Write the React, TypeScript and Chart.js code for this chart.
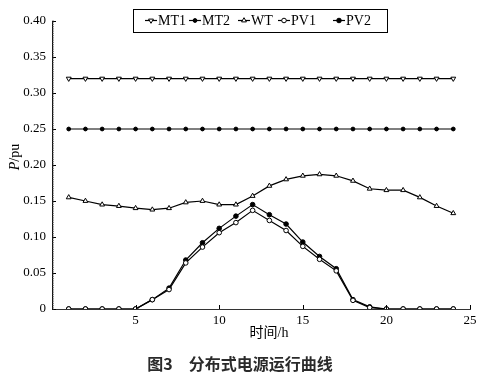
import React, { useEffect, useRef } from 'react';
import { Chart, registerables } from 'chart.js';

Chart.register(...registerables);

const hours = [1, 2, 3, 4, 5, 6, 7, 8, 9, 10, 11, 12, 13, 14, 15, 16, 17, 18, 19, 20, 21, 22, 23, 24];
const MT1 = [0.32, 0.32, 0.32, 0.32, 0.32, 0.32, 0.32, 0.32, 0.32, 0.32, 0.32, 0.32, 0.32, 0.32, 0.32, 0.32, 0.32, 0.32, 0.32, 0.32, 0.32, 0.32, 0.32, 0.32];
const MT2 = [0.25, 0.25, 0.25, 0.25, 0.25, 0.25, 0.25, 0.25, 0.25, 0.25, 0.25, 0.25, 0.25, 0.25, 0.25, 0.25, 0.25, 0.25, 0.25, 0.25, 0.25, 0.25, 0.25, 0.25];
const WT = [0.155, 0.15, 0.145, 0.143, 0.14, 0.138, 0.14, 0.148, 0.15, 0.145, 0.145, 0.157, 0.171, 0.18, 0.185, 0.187, 0.185, 0.178, 0.167, 0.165, 0.165, 0.155, 0.143, 0.133];
const PV1 = [0, 0, 0, 0, 0, 0.013, 0.027, 0.064, 0.086, 0.106, 0.12, 0.137, 0.123, 0.109, 0.087, 0.069, 0.053, 0.012, 0.002, 0, 0, 0, 0, 0];
const PV2 = [0, 0, 0, 0, 0, 0.013, 0.029, 0.068, 0.092, 0.112, 0.129, 0.145, 0.131, 0.118, 0.093, 0.073, 0.056, 0.013, 0.003, 0, 0, 0, 0, 0];
const seriesNames = ['MT1', 'MT2', 'WT', 'PV1', 'PV2'];
const yTicks = [0, 0.05, 0.1, 0.15, 0.2, 0.25, 0.3, 0.35, 0.4];
const xTicks = [5, 10, 15, 20, 25];

const SERIF = "'Liberation Serif', 'Times New Roman', serif";

type Marker = { style: string; radius: number; rotation: number; fill: string };
const markers: Marker[] = [
  { style: 'triangle', radius: 2.8, rotation: 180, fill: '#fff' },
  { style: 'circle', radius: 1.9, rotation: 0, fill: '#000' },
  { style: 'triangle', radius: 2.8, rotation: 0, fill: '#fff' },
  { style: 'circle', radius: 2.3, rotation: 0, fill: '#fff' },
  { style: 'circle', radius: 2.3, rotation: 0, fill: '#000' },
];

function drawMarker(ctx: CanvasRenderingContext2D, m: Marker, x: number, y: number) {
  ctx.save();
  ctx.strokeStyle = '#000';
  ctx.lineWidth = 1;
  ctx.fillStyle = m.fill;
  ctx.beginPath();
  if (m.style === 'circle') {
    ctx.arc(x, y, m.radius, 0, Math.PI * 2);
  } else {
    const r = m.radius;
    const rot = (m.rotation * Math.PI) / 180;
    for (let k = 0; k < 3; k++) {
      const a = rot - Math.PI / 2 + (k * 2 * Math.PI) / 3;
      const px = x + Math.cos(a) * r;
      const py = y + Math.sin(a) * r;
      if (k === 0) ctx.moveTo(px, py);
      else ctx.lineTo(px, py);
    }
    ctx.closePath();
  }
  ctx.fill();
  ctx.stroke();
  ctx.restore();
}

const decorPlugin = {
  id: 'decor',
  afterDraw(chart: any) {
    const { ctx, chartArea, scales } = chart;
    const xs = scales.x;
    const ys = scales.y;
    ctx.save();
    ctx.strokeStyle = '#000';
    ctx.lineWidth = 1;
    // major y ticks (inward)
    yTicks.forEach((v) => {
      const y = Math.round(ys.getPixelForValue(v)) + 0.5;
      ctx.beginPath();
      ctx.moveTo(chartArea.left, y);
      ctx.lineTo(chartArea.left + 4, y);
      ctx.stroke();
    });
    // minor y ticks (inward)
    ctx.lineWidth = 0.7;
    ctx.strokeStyle = '#444';
    for (let i = 0; i <= 160; i++) {
      const y = ys.getPixelForValue(i * 0.0025);
      ctx.beginPath();
      ctx.moveTo(chartArea.left, y);
      ctx.lineTo(chartArea.left + 2, y);
      ctx.stroke();
    }
    // major x ticks (inward)
    ctx.strokeStyle = '#000';
    ctx.lineWidth = 1;
    xTicks.forEach((v) => {
      const x = Math.round(xs.getPixelForValue(v)) + 0.5;
      ctx.beginPath();
      ctx.moveTo(x, chartArea.bottom);
      ctx.lineTo(x, chartArea.bottom - 4);
      ctx.stroke();
    });

    // legend
    const bx = 133.5, by = 9.5, bw = 254, bh = 23;
    ctx.fillStyle = '#fff';
    ctx.fillRect(bx, by, bw, bh);
    ctx.strokeStyle = '#000';
    ctx.lineWidth = 1;
    ctx.strokeRect(bx, by, bw, bh);
    const starts = [145, 189, 238, 278, 333];
    const ly = 20.5;
    ctx.font = `14px ${SERIF}`;
    ctx.textBaseline = 'middle';
    ctx.textAlign = 'left';
    seriesNames.forEach((name, i) => {
      const sx = starts[i];
      ctx.strokeStyle = '#000';
      ctx.lineWidth = 1.2;
      ctx.beginPath();
      ctx.moveTo(sx, ly);
      ctx.lineTo(sx + 12, ly);
      ctx.stroke();
      drawMarker(ctx, markers[i], sx + 6, ly);
      ctx.fillStyle = '#000';
      ctx.fillText(name, sx + 13, ly + 1);
    });

    // y title P/pu
    ctx.save();
    ctx.translate(15, 157);
    ctx.rotate(-Math.PI / 2);
    ctx.fillStyle = '#000';
    ctx.textBaseline = 'middle';
    ctx.font = `italic 14px ${SERIF}`;
    const wP = ctx.measureText('P').width;
    ctx.font = `14px ${SERIF}`;
    const wRest = ctx.measureText('/pu').width;
    const total = wP + wRest;
    ctx.font = `italic 14px ${SERIF}`;
    ctx.textAlign = 'left';
    ctx.fillText('P', -total / 2, 0);
    ctx.font = `14px ${SERIF}`;
    ctx.fillText('/pu', -total / 2 + wP, 0);
    ctx.restore();

    // x title
    ctx.fillStyle = '#000';
    ctx.textAlign = 'center';
    ctx.textBaseline = 'middle';
    ctx.font = `14px ${SERIF}, 'Noto Sans CJK SC'`;
    ctx.fillText('时间/h', 269, 333);

    // figure caption
    ctx.fillStyle = '#2a2a2a';
    ctx.font = `bold 16px 'Noto Sans CJK SC', sans-serif`;
    ctx.fillText('图3\u3000分布式电源运行曲线', 240, 364);
    ctx.restore();
  },
};

export default function App() {
  const ref = useRef<HTMLCanvasElement>(null);
  useEffect(() => {
    if (!ref.current) return;
    const seriesData = [MT1, MT2, WT, PV1, PV2];
    const datasets = seriesData.map((arr, i) => ({
      label: seriesNames[i],
      data: hours.map((h, j) => ({ x: h, y: arr[j] })),
      borderColor: '#000',
      borderWidth: 1.2,
      backgroundColor: markers[i].fill,
      pointBackgroundColor: markers[i].fill,
      pointBorderColor: '#000',
      pointBorderWidth: 1,
      pointStyle: markers[i].style as any,
      pointRadius: markers[i].radius,
      pointRotation: markers[i].rotation,
      tension: 0,
      fill: false,
    }));
    const chart = new Chart(ref.current, {
      type: 'line',
      data: { datasets },
      options: {
        animation: false,
        responsive: false,
        layout: { padding: { left: 0, right: 12, top: 21, bottom: 0 } },
        plugins: { legend: { display: false }, title: { display: false }, tooltip: { enabled: false } },
        scales: {
          x: {
            type: 'linear',
            min: 0,
            max: 25,
            afterFit: (s: any) => { s.height = 66; },
            afterBuildTicks: (s: any) => { s.ticks = [0, ...xTicks].map((v) => ({ value: v })); },
            grid: { display: false, drawTicks: false },
            border: { display: true, color: '#333', width: 1 },
            ticks: {
              padding: 4,
              color: '#000',
              font: { family: SERIF, size: 13 },
              callback: (v: any) => (v === 0 ? '' : String(v)),
              maxRotation: 0,
            },
          },
          y: {
            type: 'linear',
            min: 0,
            max: 0.4,
            afterFit: (s: any) => { s.width = 52; },
            afterBuildTicks: (s: any) => { s.ticks = yTicks.map((v) => ({ value: v })); },
            grid: { display: false, drawTicks: false },
            border: { display: true, color: '#000', width: 1 },
            ticks: {
              padding: 6,
              color: '#000',
              font: { family: SERIF, size: 13 },
              callback: (v: any) => (v === 0 ? '0' : Number(v).toFixed(2)),
            },
          },
        },
      },
      plugins: [decorPlugin],
    });
    return () => chart.destroy();
  }, []);
  return (
    <div style={{ position: 'absolute', left: 0, top: 0, width: 482, height: 375, background: '#fff' }}>
      <canvas ref={ref} width={482} height={375} style={{ display: 'block', width: 482, height: 375 }} />
    </div>
  );
}
